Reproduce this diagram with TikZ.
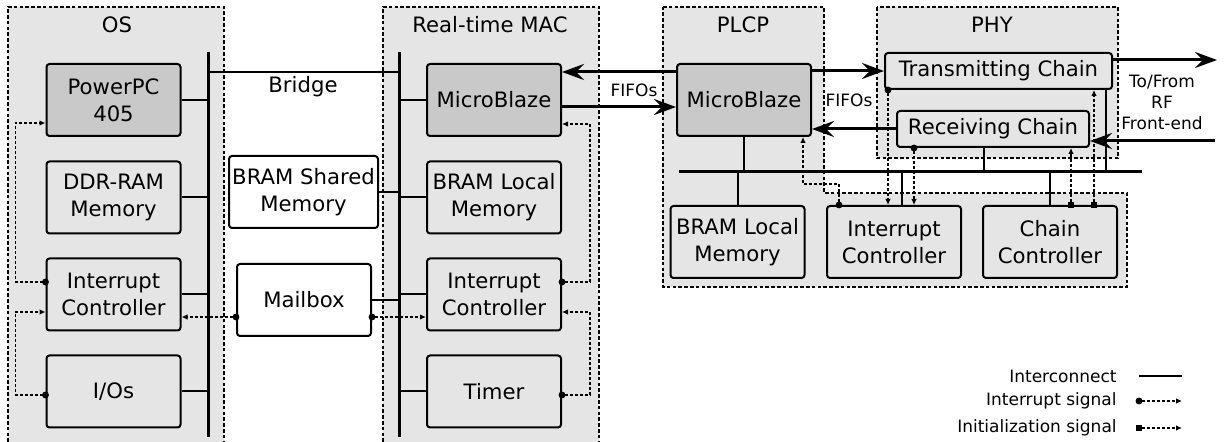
\documentclass[tikz,border=0pt]{standalone}
\usepackage{fontspec}
\setmainfont{DejaVu Sans}
\usetikzlibrary{arrows.meta,calc}

\definecolor{panel}{gray}{0.90}
\definecolor{cpufill}{gray}{0.79}

\begin{document}
\begin{tikzpicture}[x=0.5pt,y=-0.5pt,
  font=\fontsize{10.6pt}{13.5pt}\selectfont,
  every node/.style={inner sep=0pt, align=center},
  smallfont/.style={font=\fontsize{8.5pt}{10.5pt}\selectfont},
  contfill/.style={fill=panel},
  contline/.style={draw, line width=0.9pt, dash pattern=on 1.8pt off 1.1pt},
  blk/.style={draw, line width=1pt, rounded corners=1.5pt, fill=panel,
              minimum width=67pt, minimum height=36pt},
  cpu/.style={blk, fill=cpufill},
  plain/.style={blk, fill=white},
  chain/.style={blk, minimum height=18pt},
  bus/.style={line width=1.5pt},
  link/.style={line width=1pt},
  fifo/.style={line width=1.5pt, -{Stealth[length=11pt,width=8pt,inset=4pt]}},
  sig/.style={line width=0.6pt, dash pattern=on 1.5pt off 1pt,
              shorten <=-1.7pt, {Circle[length=3.4pt]}-{Latex[length=3pt,width=2.8pt]}},
  initsig/.style={line width=0.6pt, dash pattern=on 1.5pt off 1pt,
              shorten <=-1.7pt, {Square[length=3.4pt,width=3.4pt]}-{Latex[length=3pt,width=2.8pt]}},
]
\useasboundingbox (0,0) rectangle (1225,442);

% ---- subsystem containers ----
\fill[contfill] (8,7) rectangle (224,442);
\draw[contline] (8,442) -- (8,7) -- (224,7) -- (224,442);
\fill[contfill] (383,7) rectangle (599,442);
\draw[contline] (383,442) -- (383,7) -- (599,7) -- (599,442);
\path[contfill, contline] (663,7) -- (824,7) -- (824,193) -- (1127,193)
  -- (1127,287) -- (663,287) -- cycle;
\path[contfill, contline] (877,7) rectangle (1118,158);

\node (tos)   at (117,25) {OS};
\node (tmac)  at (490,25) {Real-time MAC};
\node (tplcp) at (743,25) {PLCP};
\node (tphy)  at (992,25) {PHY};

% ---- buses ----
\coordinate (osbusT) at (208,52);  \coordinate (osbusB) at (208,437);
\coordinate (macbusT) at (399,52); \coordinate (macbusB) at (399,437);
\coordinate (plcpbusL) at (679,172); \coordinate (plcpbusR) at (1142,172);
\coordinate (bridgeL) at (208,72); \coordinate (bridgeR) at (399,72);
\draw[bus] (osbusT) -- (osbusB);
\draw[bus] (macbusT) -- (macbusB);
\draw[bus] (plcpbusL) -- (plcpbusR);
\draw[link] (bridgeL) -- (bridgeR);
\node (bridge) at (303,87) {Bridge};

% ---- OS blocks ----
\node[cpu] (ppc)  at (113.5,100)   {PowerPC\\405};
\node[blk] (ddr)  at (113.5,197.5) {DDR-RAM\\Memory};
\node[blk] (osic) at (113.5,294.5) {Interrupt\\Controller};
\node[blk] (io)   at (113.5,391.5) {I/Os};

% ---- real-time MAC blocks ----
\node[cpu] (macmb) at (494,100)   {MicroBlaze};
\node[blk] (maclm) at (494,197.5) {BRAM Local\\Memory};
\node[blk] (macic) at (494,294.5) {Interrupt\\Controller};
\node[blk] (timer) at (494,391.5) {Timer};

% ---- shared blocks ----
\node[plain, minimum width=74.5pt] (shm) at (303.5,192) {BRAM Shared\\Memory};
\node[plain] (mbox) at (304,300) {Mailbox};

% ---- PLCP blocks ----
\node[cpu] (plcpmb) at (744,100)   {MicroBlaze};
\node[blk] (plcplm) at (737.5,242) {BRAM Local\\Memory};
\node[blk] (plcpic) at (894,242)   {Interrupt\\Controller};
\node[blk] (cc)     at (1050,242)  {Chain\\Controller};

% ---- PHY blocks ----
\node[chain, minimum width=113.5pt] (tc) at (998.5,71) {Transmitting Chain};
\node[chain, minimum width=96pt]    (rc) at (993,129)  {Receiving Chain};

% ---- bus attachments ----
\foreach \n in {ppc,ddr,osic,io} \draw[link] (\n.east) -- (\n.east -| osbusT);
\foreach \n in {macmb,maclm,macic,timer} \draw[link] (\n.west) -- (\n.west -| macbusT);
\draw[link] (shm.east) -- (shm.east -| macbusT);
\draw[link] (mbox.east) -- (mbox.east -| macbusT);
\draw[link] (plcpmb.south) -- (plcpmb.south |- plcpbusL);
\draw[link] (plcplm.north) -- (plcplm.north |- plcpbusL);
\draw[link] ($(plcpic.north)+(8,0)$) coordinate (icb) -- (icb |- plcpbusL);
\draw[link] (cc.north) -- (cc.north |- plcpbusL);
\draw[link] ($(rc.south)+(-9,0)$) coordinate (rcb) -- (rcb |- plcpbusL);
\draw[link] ($(tc.south east)+(-7,0)$) coordinate (tcb) -- (tcb |- plcpbusL);

% ---- FIFO data paths ----
\draw[fifo] ($(plcpmb.west)+(0,-28)$) -- ($(macmb.east)+(0,-28)$);
\draw[fifo] ($(macmb.east)+(0,7)$) -- ($(plcpmb.west)+(0,7)$);
\node[smallfont] (fifo1) at (634,90) {FIFOs};
\draw[fifo] ($(plcpmb.east)+(0,-29)$) -- (tc.west);
\draw[fifo] (rc.west) -- (rc.west -| plcpmb.east);
\node[smallfont] (fifo2) at (849,100) {FIFOs};

% ---- RF front-end ----
\coordinate (rfout) at (1217,60);
\coordinate (rfin) at (1215,141);
\draw[fifo] ($(tc.east)+(0,-11)$) coordinate (tco) -- (tco -| rfout);
\draw[fifo] (rfin) -- (rfin -| rc.east);
\node[smallfont] (rflabel) at (1162,102) {To/From\\RF\\Front-end};

% ---- interrupt signals ----
\draw[sig] ($(osic.west)+(0,-12.5)$) -- ++(-30,0) |- ($(ppc.west)+(0,23)$);
\draw[sig] ($(io.west)+(0,3.5)$) -- ++(-30,0) |- ($(osic.west)+(0,17.5)$);
\draw[sig] ($(mbox.west)+(0,17)$) coordinate (m1) -- (m1 -| osic.east);
\draw[sig] ($(mbox.east)+(0,17)$) coordinate (m2) -- (m2 -| macic.west);
\draw[sig] ($(macic.east)+(0,-12.5)$) -- ++(28,0) |- ($(macmb.east)+(0,24)$);
\draw[sig] ($(timer.east)+(0,3.5)$) -- ++(28,0) |- ($(macic.east)+(0,17.5)$);
\draw[sig] ($(plcpic.north)+(-55,0)$) -- ++(0,-21) -| ($(plcpmb.south)+(59,0)$);
\draw[sig] ($(tc.south west)+(4,0)$) coordinate (t1) -- (t1 |- plcpic.north);
\draw[sig] ($(rc.south west)+(18,0)$) coordinate (r1) -- (r1 |- plcpic.north);

% ---- initialization signals ----
\draw[initsig] ($(cc.north)+(21,0)$) coordinate (c1) -- (c1 |- rc.south);
\draw[initsig] ($(cc.north)+(44,0)$) coordinate (c2) -- (c2 |- tc.south);

% ---- legend ----
\node[smallfont, anchor=east] (lg1) at (1117,376) {Interconnect};
\node[smallfont, anchor=east] (lg2) at (1117,401) {Interrupt signal};
\node[smallfont, anchor=east] (lg3) at (1117,428) {Initialization signal};
\coordinate (l1a) at (1139,376); \coordinate (l1b) at (1182,376);
\coordinate (l2a) at (1139,401); \coordinate (l2b) at (1182,401);
\coordinate (l3a) at (1139,428); \coordinate (l3b) at (1182,428);
\draw[line width=1.4pt] (l1a) -- (l1b);
\draw[sig] (l2a) -- (l2b);
\draw[initsig] (l3a) -- (l3b);
\end{tikzpicture}
\end{document}
